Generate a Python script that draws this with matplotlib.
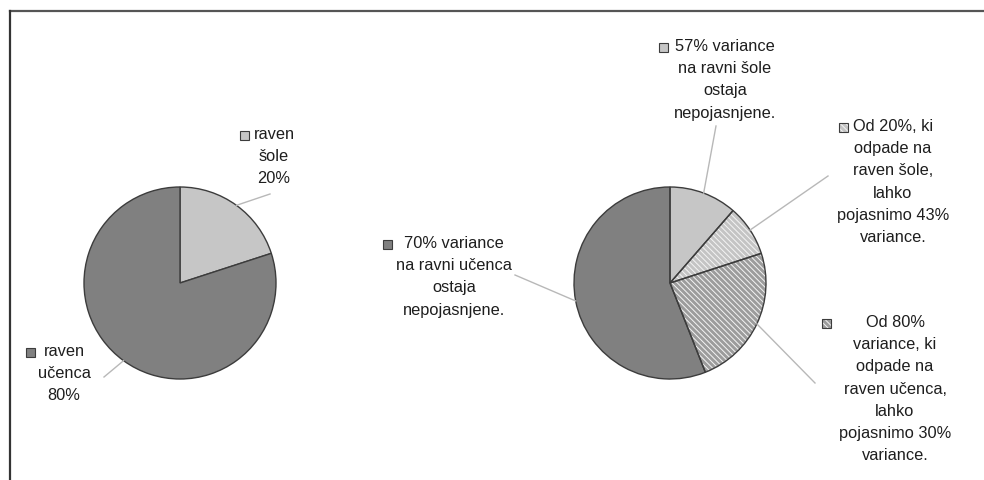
import numpy as np
import matplotlib
matplotlib.use("Agg")
import matplotlib.pyplot as plt
from matplotlib.patches import Rectangle
from matplotlib.lines import Line2D

plt.rcParams['font.family'] = ['Liberation Sans', 'DejaVu Sans']
plt.rcParams['hatch.linewidth'] = 0.7

# Variance decomposition between levels (percent)
level_labels = ["raven\nšole\n20%", "raven\nučenca\n80%"]
level_share = [20, 80]

# Share of each level's variance that is explained / unexplained (percent)
school_unexplained = 57
school_explained = 43
student_explained = 30
student_unexplained = 70

detail_labels = [
    "57% variance\nna ravni šole\nostaja\nnepojasnjene.",
    "Od 20%, ki\nodpade na\nraven šole,\nlahko\npojasnimo 43%\nvariance.",
    "Od 80%\nvariance, ki\nodpade na\nraven učenca,\nlahko\npojasnimo 30%\nvariance.",
    "70% variance\nna ravni učenca\nostaja\nnepojasnjene.",
]
detail_share = [
    level_share[0] * school_unexplained / 100,
    level_share[0] * school_explained / 100,
    level_share[1] * student_explained / 100,
    level_share[1] * student_unexplained / 100,
]

W, H = 984, 480
LIGHT = "#c6c6c6"
LIGHT_H = "#c4c4c4"
MID_H = "#9c9c9c"
DARK = "#808080"
EDGE = "#3c3c3c"
LEADER = "#b8b8b8"
TXT = "#1e1e1e"
HATCH = "\\" * 6

fig = plt.figure(figsize=(W / 100, H / 100), dpi=100)
ax = fig.add_axes([0, 0, 1, 1])


def Y(y):
    return H - y


R = 96
left_c = (180, 283)
right_c = (670, 283)

# left pie
ax.pie(level_share, center=(left_c[0], Y(left_c[1])), radius=R,
       startangle=90, counterclock=False, colors=[LIGHT, DARK],
       wedgeprops=dict(edgecolor=EDGE, linewidth=1.0))

# right pie: fill with hatching, then outline on top
fills = [LIGHT, LIGHT_H, MID_H, DARK]
hatches = [None, HATCH, HATCH, None]
wedges, _ = ax.pie(detail_share, center=(right_c[0], Y(right_c[1])), radius=R,
                   startangle=90, counterclock=False, colors=fills,
                   wedgeprops=dict(edgecolor="#f4f4f4", linewidth=0))
for w, h in zip(wedges, hatches):
    if h:
        w.set_hatch(h)
    else:
        w.set_edgecolor(w.get_facecolor())
ax.pie(detail_share, center=(right_c[0], Y(right_c[1])), radius=R,
       startangle=90, counterclock=False,
       wedgeprops=dict(edgecolor=EDGE, linewidth=1.0, fill=False))


def mid_point(values, i, center):
    total = sum(values)
    start = sum(values[:i]) / total * 360
    mid = start + values[i] / total * 180
    ang = np.deg2rad(90 - mid)
    return center[0] + R * np.cos(ang), center[1] - R * np.sin(ang)


def label(text, cx, top, mx, my, fill, hatch, values, idx, center, end):
    ax.text(cx, Y(top), text, ha="center", va="top", multialignment="center",
            fontsize=11.8, color=TXT, linespacing=1.6)
    s = 9
    ax.add_patch(Rectangle((mx - s / 2, Y(my) - s / 2), s, s, facecolor=fill,
                           edgecolor="#f4f4f4" if hatch else EDGE,
                           hatch=hatch, linewidth=0 if hatch else 0.8))
    if hatch:
        ax.add_patch(Rectangle((mx - s / 2, Y(my) - s / 2), s, s, fill=False,
                               edgecolor=EDGE, linewidth=0.8))
    px, py = mid_point(values, idx, center)
    ax.add_line(Line2D([px, end[0]], [Y(py), Y(end[1])], color=LEADER, lw=1.0))


label(level_labels[0], 274, 127, 244, 135, LIGHT, None, level_share, 0, left_c, (270, 194))
label(level_labels[1], 64, 344, 30, 352, DARK, None, level_share, 1, left_c, (104, 377))

label(detail_labels[0], 725, 39, 663, 47, LIGHT, None, detail_share, 0, right_c, (716, 126))
label(detail_labels[1], 893, 119, 843, 127, LIGHT_H, HATCH, detail_share, 1, right_c, (828, 176))
label(detail_labels[2], 895, 315, 826, 323, MID_H, HATCH, detail_share, 2, right_c, (815, 383))
label(detail_labels[3], 454, 236, 387, 244, DARK, None, detail_share, 3, right_c, (515, 275))

# frame lines along the top and left edges
ax.add_line(Line2D([9.5, W], [Y(10.5), Y(10.5)], color="#555555", lw=1.6))
ax.add_line(Line2D([9.5, 9.5], [Y(10.5), 0], color="#333333", lw=1.6))

ax.set_xlim(0, W)
ax.set_ylim(0, H)
ax.set_aspect("equal")
ax.axis("off")

fig.savefig("out.png", dpi=100, facecolor="white")
